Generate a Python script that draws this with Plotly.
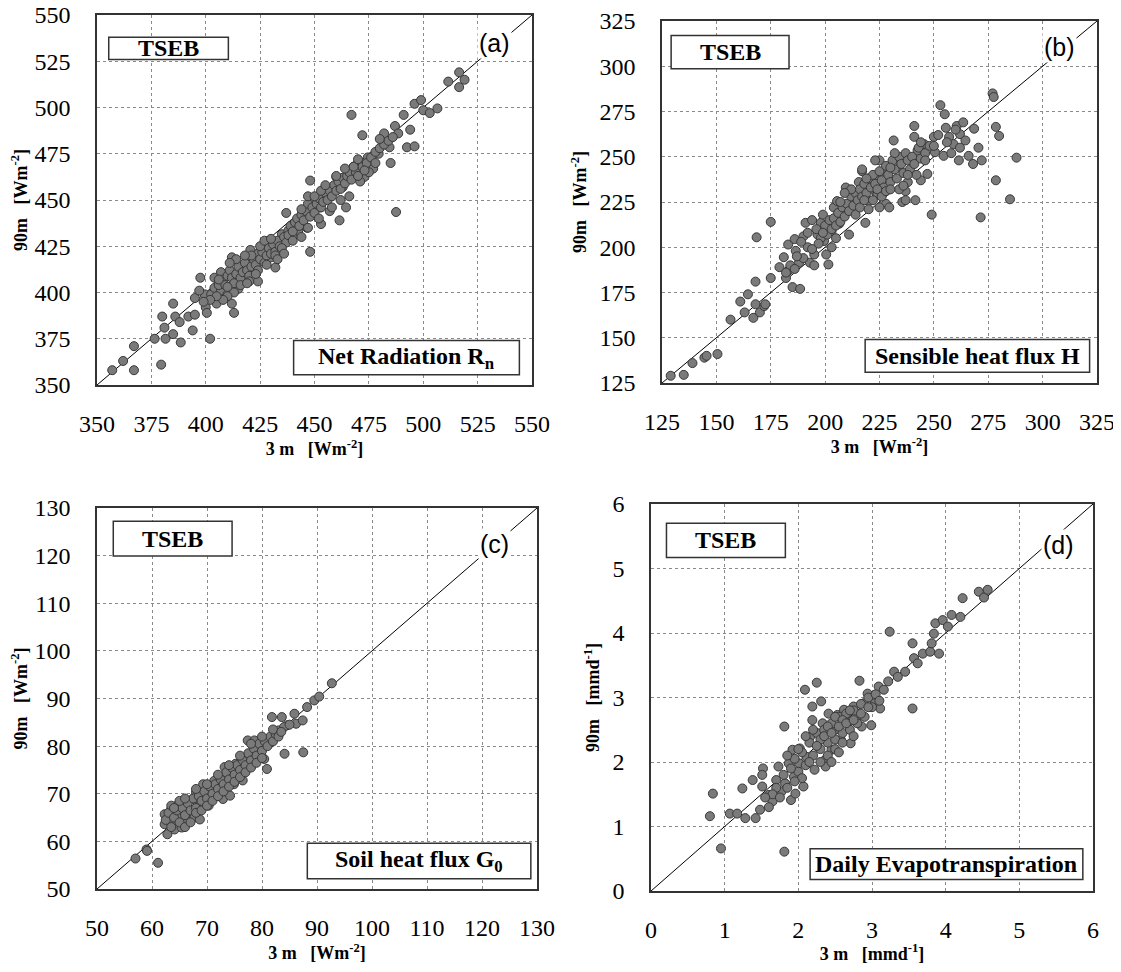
import plotly.graph_objects as go
from plotly.subplots import make_subplots

# (3 m, 90 m) pairs, one list per panel
rn_pts = [
    (357, 358), (362, 363), (367, 371), (367, 358), (376.5, 375), (380, 387), (379.5, 361),
    (381, 381), (381.5, 375), (385, 394), (385, 377.5), (386, 387), (388, 384), (388.5, 373),
    (392, 387), (394, 379.5), (395, 388), (395, 397), (397.5, 408), (399.5, 399), (400, 392),
    (400.5, 389), (402, 375), (402.5, 399), (404, 402.5), (405, 394), (406, 406.5), (407, 401),
    (410, 399), (412, 394), (413, 389), (412, 419), (414, 406), (415, 402), (416.5, 413.5),
    (419, 419), (420.5, 423), (423, 410), (424, 406), (425.5, 417), (427, 423.5), (429, 428),
    (430, 419), (432, 413.5), (433.5, 424.5), (435, 431.5), (437, 443), (438, 433.5), (440, 430),
    (442.5, 433.5), (445, 443), (446.5, 435), (448, 422), (448, 460.5), (450, 450), (452.5, 446),
    (453, 437), (455.5, 452), (457, 444), (460, 462.5), (461.5, 439), (463, 457), (464.5, 446),
    (467, 496), (468, 468), (472, 485), (473, 462.5), (474.5, 473), (477, 467), (479.5, 475),
    (482, 486), (484.5, 478.5), (485, 470), (487, 490), (487.5, 443.5), (488.5, 486), (491, 496),
    (492.5, 478.5), (494, 488), (496, 502), (496, 479), (499, 504), (500, 498.5), (503, 497),
    (506.5, 499.5), (511.5, 514), (516.5, 519), (516.5, 511), (519, 515),
    (404, 408), (406, 404), (407, 411), (408, 407), (409, 404), (410, 409), (411, 412), (412, 408),
    (413, 405), (414, 410), (415, 414), (416, 408), (417, 411), (418, 416), (419, 412), (420, 409),
    (421, 414), (422, 418), (423, 415), (424, 421), (425, 418), (426, 422), (427, 416), (428, 420),
    (429, 424), (430, 421), (431, 426), (432, 422), (433, 428), (434, 425), (436, 430), (437, 427),
    (438, 431), (439, 436), (440, 433), (441, 438), (442, 440), (443, 436), (444, 442), (445, 439),
    (446, 444), (447, 448), (448, 441), (449, 446), (450, 443), (451, 448), (452, 451), (453, 446),
    (454, 449), (455, 454), (456, 450), (457, 455), (458, 452), (459, 458), (460, 455), (461, 460),
    (462, 456), (463, 462), (464, 459), (465, 463), (466, 465), (467, 461), (469, 465), (470, 470),
    (472, 468), (474, 470), (476, 473), (478, 476), (480, 478), (482, 480), (475, 465), (471, 460),
    (466, 452), (462, 450), (458, 446), (452, 440), (447, 435), (444, 430), (440, 428), (435, 424),
    (432, 420), (428, 415), (424, 412), (420, 406), (416, 404), (413, 400), (410, 398), (408, 396),
    (405, 398), (402, 396), (399, 395), (397, 401), (421, 420), (425, 425), (423, 410), (427, 428),
    (430, 429), (418, 420), (414, 418), (411, 416), (410, 403), (406, 407), (419, 405), (433, 418),
    (436, 421), (444, 445), (447, 452), (450, 452), (453, 455), (455, 458), (460, 463), (464, 467),
    (468, 468), (470, 463), (473, 466), (478, 470), (484, 482), (486, 484), (480, 483), (470, 472),
]

h_pts = [
    (129, 129), (135, 129.5), (139, 136), (144.5, 139), (145.5, 140), (150.5, 141), (156.5, 160),
    (161, 170), (163, 164), (164.5, 174), (167, 161), (168, 181), (168, 168.5), (168.5, 205.5),
    (170, 164), (172, 167.5), (172.5, 168.5), (175, 214), (175, 183), (179, 189), (181, 194.5),
    (182, 183), (183, 201.5), (183, 187), (185, 178), (186, 204.5), (186.5, 198), (188, 191.5),
    (188.5, 177), (190, 206), (191, 213.5), (192, 200), (193, 191.5), (195, 190), (195, 196),
    (196.5, 207), (198, 213.5), (199, 218), (199.5, 203.5), (200.5, 196), (201.5, 190.5),
    (203, 209), (204, 222), (205.5, 225.5), (206.5, 213), (208, 218.5), (209.5, 233), (211, 207),
    (212, 224), (213.5, 229.5), (215.5, 236), (217, 242), (218.5, 213.5), (220, 225.5),
    (222.5, 238.5), (223.5, 230), (225, 248), (227, 240.5), (228, 224), (229.5, 222), (231.5, 259),
    (232.5, 249.5), (234, 244), (235.5, 225), (237, 231), (238, 236), (241, 267), (241, 261),
    (241.5, 226), (242.5, 253.5), (244, 237), (245.5, 257), (247, 240.5), (249, 218), (250, 261),
    (250.5, 252.5), (253, 278.5), (254.5, 250.5), (255, 273.5), (255.5, 266), (257, 261),
    (259, 257), (260.5, 267), (261.5, 248), (262, 262.5), (263.5, 269), (264.5, 259), (266, 250.5),
    (268, 246), (268.5, 265.5), (270.5, 255), (272, 248), (271.5, 216.5), (277, 285), (277.5, 283),
    (278.5, 266.5), (278.5, 237), (280, 261.5), (285, 226.5), (288, 249.5),
    (196, 210), (198, 205), (200, 212), (201, 207), (202, 215), (203, 210), (204, 216), (205, 212),
    (206, 219), (207, 214), (208, 222), (209, 217), (210, 224), (211, 220), (212, 228), (213, 223),
    (214, 230), (215, 226), (216, 232), (217, 228), (218, 235), (219, 230), (220, 238), (221, 233),
    (222, 240), (223, 235), (224, 229), (225, 242), (226, 237), (227, 233), (228, 245), (229, 240),
    (230, 236), (231, 248), (232, 243), (233, 238), (234, 250), (235, 246), (236, 241), (237, 252),
    (238, 248), (239, 243), (240, 250), (241, 246), (242, 240), (243, 255), (244, 249), (246, 252),
    (248, 256), (212, 232), (214, 218), (216, 222), (218, 226), (220, 221), (222, 226), (224, 232),
    (226, 228), (228, 231), (230, 244), (232, 252), (234, 232), (236, 234), (238, 240), (205, 205),
    (207, 225), (209, 230), (203, 200), (199, 208), (197, 202), (194, 199), (190, 194), (187, 195),
    (184, 190), (182, 186), (186, 188), (189, 203), (192, 208), (194, 215), (244, 258), (246, 248),
    (250, 256), (252, 262), (256, 258), (258, 252), (260, 265), (262, 255), (217, 243), (219, 238),
    (223, 248), (225, 222), (230, 232), (237, 226),
]

g_pts = [
    (57, 56.4), (59, 58.3), (59.1, 58), (61.1, 55.5), (62.3, 65.7), (62.3, 63.6), (62.8, 61.5),
    (63.5, 66.8), (63.8, 64), (64.1, 62.5), (64.8, 67.8), (65.1, 65.4), (65.4, 62.9), (66.1, 64),
    (66.4, 67.5), (66.7, 66), (67.4, 68.9), (67.7, 65), (68, 70.3), (68.7, 64.6), (69, 67.5),
    (69.3, 72), (69.7, 68.9), (70.3, 67.5), (70.6, 70.6), (71.3, 72.7), (71.6, 70), (72.3, 71.3),
    (72.9, 68.9), (73.2, 75.6), (73.9, 73.5), (74.2, 69.6), (74.9, 72), (75.2, 76.3), (75.8, 74.2),
    (76.5, 72.8), (77.1, 77.7), (77.4, 81.2), (78.1, 75.9), (78.6, 81.2), (79.1, 78.4),
    (79.7, 79.8), (80.4, 77.3), (80.9, 75.2), (81.3, 80.5), (81.8, 86.1), (82.3, 81.9), (83, 83.3),
    (83.6, 86.1), (84.1, 78.4), (84.6, 84.4), (85.9, 86.8), (86.2, 84.7), (87.4, 85.4),
    (87.5, 78.7), (88.2, 88.2), (89.5, 89.6), (90.4, 90.4), (92.7, 93.2),
    (62.5, 64.5), (63, 66), (63.5, 63), (64, 65), (64.5, 66.5), (65, 64), (65.5, 67), (66, 65.5),
    (66.5, 68), (67, 66.5), (67.5, 69), (68, 67), (68.5, 69.5), (69, 68.5), (69.5, 70.5), (70, 69),
    (70.5, 71.5), (71, 70), (71.5, 72), (72, 71), (72.5, 73), (73, 72), (73.5, 74.5), (74, 73),
    (74.5, 75.5), (75, 74), (75.5, 76), (76, 75), (76.5, 77), (77, 76), (77.5, 78.5), (78, 77),
    (78.5, 79.5), (79, 78), (79.5, 80.5), (80, 79), (80.5, 81), (81, 80), (81.5, 82), (82, 81),
    (82.5, 82.5), (83, 82), (84, 84), (85, 84.5), (63.5, 67.5), (65, 68.5), (66, 63), (67, 64),
    (68, 66), (69, 66.5), (70, 67.5), (71, 68.5), (72, 69.5), (73, 70.5), (74, 71.5), (75, 72.5),
    (76, 73.5), (77, 74.5), (78, 75.5), (79, 76.5), (80, 77.5), (70, 72), (72, 74), (74, 76),
    (76, 78), (78, 80.5), (68, 71), (66, 69), (64, 67), (80, 82), (82, 83.5), (83.5, 83),
]

et_pts = [
    (0.80, 1.16), (0.84, 1.51), (0.95, 0.66), (1.07, 1.20), (1.17, 1.20), (1.24, 1.59),
    (1.28, 1.13), (1.42, 1.13), (1.38, 1.72), (1.48, 1.26), (1.51, 1.62), (1.52, 1.90),
    (1.51, 1.80), (1.60, 1.49), (1.65, 1.39), (1.70, 1.72), (1.73, 1.93), (1.77, 1.54),
    (1.81, 2.55), (1.81, 0.61), (1.82, 1.67), (1.87, 1.98), (1.90, 1.41), (1.92, 2.19),
    (1.94, 1.77), (1.96, 1.51), (2.01, 1.98), (2.02, 2.21), (2.07, 1.62), (2.09, 3.12),
    (2.11, 2.08), (2.16, 2.39), (2.19, 2.86), (2.19, 2.65), (2.22, 1.88), (2.25, 3.23),
    (2.26, 2.24), (2.31, 2.94), (2.33, 2.60), (2.36, 2.03), (2.37, 1.93), (2.41, 2.75),
    (2.45, 2.19), (2.50, 2.50), (2.53, 2.73), (2.58, 2.34), (2.62, 2.81), (2.67, 2.60),
    (2.71, 2.29), (2.75, 2.86), (2.79, 2.65), (2.83, 3.26), (2.86, 2.55), (2.89, 2.91),
    (2.94, 3.06), (2.99, 2.57), (3.04, 2.91), (3.09, 3.17), (3.11, 2.83), (3.16, 3.12),
    (3.22, 3.25), (3.24, 4.02), (3.30, 3.40), (3.35, 3.32), (3.45, 3.40), (3.55, 3.84),
    (3.55, 2.83), (3.57, 3.61), (3.62, 3.53), (3.69, 3.68), (3.79, 3.71), (3.81, 3.84),
    (3.84, 3.99), (3.86, 4.15), (3.91, 3.68), (3.96, 4.20), (4.03, 4.10), (4.08, 4.28),
    (4.20, 4.25), (4.23, 4.54), (4.45, 4.64), (4.52, 4.55), (4.57, 4.67),
    (1.95, 2.05), (2.0, 1.85), (2.05, 2.15), (2.1, 1.95), (2.15, 2.3), (2.2, 2.1), (2.25, 2.45),
    (2.3, 2.2), (2.35, 2.5), (2.4, 2.3), (2.45, 2.6), (2.5, 2.35), (2.55, 2.7), (2.6, 2.45),
    (2.65, 2.75), (2.7, 2.5), (2.75, 2.8), (2.8, 2.6), (2.85, 2.9), (2.9, 2.7), (2.95, 3.0),
    (3.0, 2.85), (3.05, 3.05), (3.1, 2.95), (2.05, 1.75), (2.1, 2.4), (2.2, 2.5), (2.3, 2.35),
    (2.4, 2.55), (2.5, 2.7), (2.6, 2.65), (2.7, 2.8), (2.3, 2.0), (2.4, 2.1), (2.5, 2.2),
    (2.6, 2.3), (1.8, 1.8), (1.85, 1.6), (1.7, 1.6), (1.65, 1.5), (1.55, 1.45), (1.6, 1.3),
    (1.75, 1.45), (1.9, 1.9), (1.95, 1.7), (2.0, 2.2), (1.85, 2.1), (2.15, 2.0), (2.25, 2.25),
    (2.35, 2.4), (2.45, 2.45), (2.55, 2.55), (2.65, 2.6), (2.75, 2.65), (2.85, 2.75),
    (2.95, 2.85), (2.45, 2.0), (2.55, 2.15), (2.75, 2.4),
]

axis_ranges = [[350, 550], [125, 325], [50, 130], [0, 6]]
axis_dticks = [25, 25, 10, 1]
units = ['Wm<sup>-2</sup>', 'Wm<sup>-2</sup>', 'Wm<sup>-2</sup>', 'mmd<sup>-1</sup>']
names = ['Net Radiation R<sub>n</sub>', 'Sensible heat flux H',
         'Soil heat flux G<sub>0</sub>', 'Daily Evapotranspiration']
tags = ['(a)', '(b)', '(c)', '(d)']
all_pts = [rn_pts, h_pts, g_pts, et_pts]

# the page body adds an 8 px margin, so the figure is a bit smaller than the window
OFF = 8
W, H = 1121 - 2 * OFF, 972 - 2 * OFF
# plot frames in window pixels: left, top, right, bottom
frames = [(97, 15, 532, 385), (662, 21, 1097, 383), (97, 508, 537, 889), (651, 504, 1093, 891)]
# TSEB box, name box (x0, x1, y0, y1 in axis-domain units), tag position
tseb_boxes = [(0.027, 0.302, 0.88, 0.94), (0.021, 0.292, 0.868, 0.96),
              (0.037, 0.307, 0.874, 0.965), (0.035, 0.304, 0.862, 0.95)]
name_boxes = [(0.452, 0.971, 0.028, 0.12), (0.467, 0.983, 0.03, 0.12),
              (0.478, 0.986, 0.027, 0.12), (0.36, 0.977, 0.03, 0.109)]
tag_pos = [(0.914, 0.923), (0.914, 0.928), (0.903, 0.905), (0.923, 0.894)]

fig = make_subplots(rows=2, cols=2)
serif = 'Liberation Serif'
nb = '\u00a0'

for i, pts in enumerate(all_pts):
    row, col = i // 2 + 1, i % 2 + 1
    xs = [p[0] for p in pts]
    ys = [p[1] for p in pts]
    lo, hi = axis_ranges[i]
    fig.add_trace(go.Scatter(x=[lo, hi], y=[lo, hi], mode='lines',
                             line=dict(color='black', width=1), showlegend=False,
                             hoverinfo='skip'), row=row, col=col)
    fig.add_trace(go.Scatter(x=xs, y=ys, mode='markers', showlegend=False,
                             marker=dict(size=9, color='#7a7a7a',
                                         line=dict(color='#383838', width=1))),
                  row=row, col=col)

    l, t, r, b = [v - OFF for v in frames[i]]
    sfx = '' if i == 0 else str(i + 1)
    common = dict(range=[lo, hi], dtick=axis_dticks[i], tick0=lo, automargin=False,
                  showgrid=True, gridcolor='#8a8a8a', griddash='3px,3px', gridwidth=1,
                  showline=True, linecolor='#333', linewidth=1.5, mirror=True,
                  zeroline=False, ticks='', ticklabeloverflow='allow',
                  tickfont=dict(family=serif, size=24, color='black'))
    fig.update_layout({
        'xaxis' + sfx: dict(common, domain=[l / W, r / W], ticklabelstandoff=16,
                            title=dict(text='<b>3 m' + nb * 3 + '[' + units[i] + ']</b>',
                                       font=dict(family=serif, size=18, color='black'),
                                       standoff=6)),
        'yaxis' + sfx: dict(common, domain=[1 - b / H, 1 - t / H], ticklabelstandoff=20,
                            title=dict(text='<b>90m' + nb * 3 + '[' + units[i] + ']</b>',
                                       font=dict(family=serif, size=18, color='black'),
                                       standoff=8)),
    })

    xr, yr = 'x' + sfx + ' domain', 'y' + sfx + ' domain'
    for (x0, x1, y0, y1), txt in [(tseb_boxes[i], '<b>TSEB</b>'), (name_boxes[i], '<b>' + names[i] + '</b>')]:
        fig.add_shape(type='rect', xref=xr, yref=yr, x0=x0, x1=x1, y0=y0, y1=y1,
                      fillcolor='white', line=dict(color='#333', width=1.5), layer='above')
        fig.add_annotation(xref=xr, yref=yr, x=(x0 + x1) / 2, y=(y0 + y1) / 2, text=txt,
                           xanchor='center', yanchor='middle', showarrow=False,
                           font=dict(family=serif, size=24, color='black'))
    tx, ty = tag_pos[i]
    fig.add_annotation(xref=xr, yref=yr, x=tx, y=ty, text=tags[i], showarrow=False,
                       xanchor='center', yanchor='middle', bgcolor='white', borderpad=1,
                       font=dict(family='Liberation Sans', size=25, color='black'))

fig.update_layout(width=W, height=H, margin=dict(l=0, r=0, t=0, b=0),
                  font=dict(family=serif, color='black'),
                  paper_bgcolor='white', plot_bgcolor='white')
fig.write_html('out.html')
